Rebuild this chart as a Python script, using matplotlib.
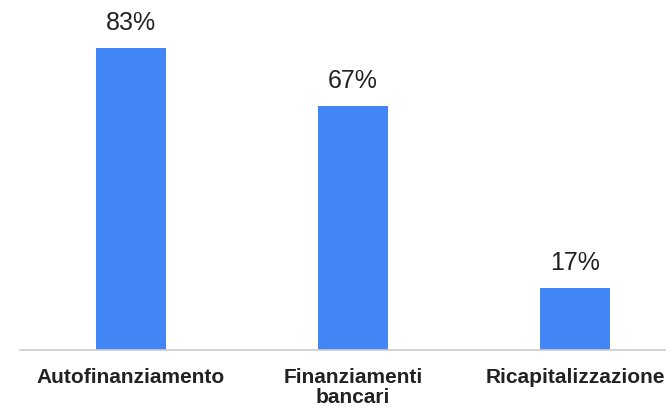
import matplotlib
matplotlib.use('Agg')
import matplotlib.pyplot as plt
import numpy as np

categorie = ['Autofinanziamento', 'Finanziamenti\nbancari', 'Ricapitalizzazione']
valori = [83, 67, 17]
etichette = ['83%', '67%', '17%']

plt.rcParams['font.family'] = ['Liberation Sans', 'DejaVu Sans']

fig = plt.figure(figsize=(6.66, 4.10), dpi=100)
ax = fig.add_axes([0.03, 0.144, 0.97, 0.856])

x = np.arange(len(categorie))
bars = ax.bar(x, valori, width=0.315, color='#4285F4')

for b, t in zip(bars, etichette):
    ax.annotate(t, (b.get_x() + b.get_width() / 2, b.get_height()),
                xytext=(0, 10), textcoords='offset points',
                ha='center', va='bottom', fontsize=18, color='#222222')

ax.set_xlim(-0.5, 2.41)
ax.set_ylim(0, 96.4)
ax.set_xticks(x)
ax.set_xticklabels(categorie, fontsize=15, fontweight='bold', color='#222222',
                   linespacing=1.1)
ax.tick_params(axis='x', length=0, pad=12)
ax.set_yticks([])
for s in ['top', 'right', 'left']:
    ax.spines[s].set_visible(False)
ax.spines['bottom'].set_color('#cccccc')
ax.spines['bottom'].set_linewidth(1.2)

# l'ultima etichetta esce dal bordo come nell'originale
for lab in ax.get_xticklabels():
    lab.set_clip_on(False)

fig.savefig('out.png', dpi=100)
